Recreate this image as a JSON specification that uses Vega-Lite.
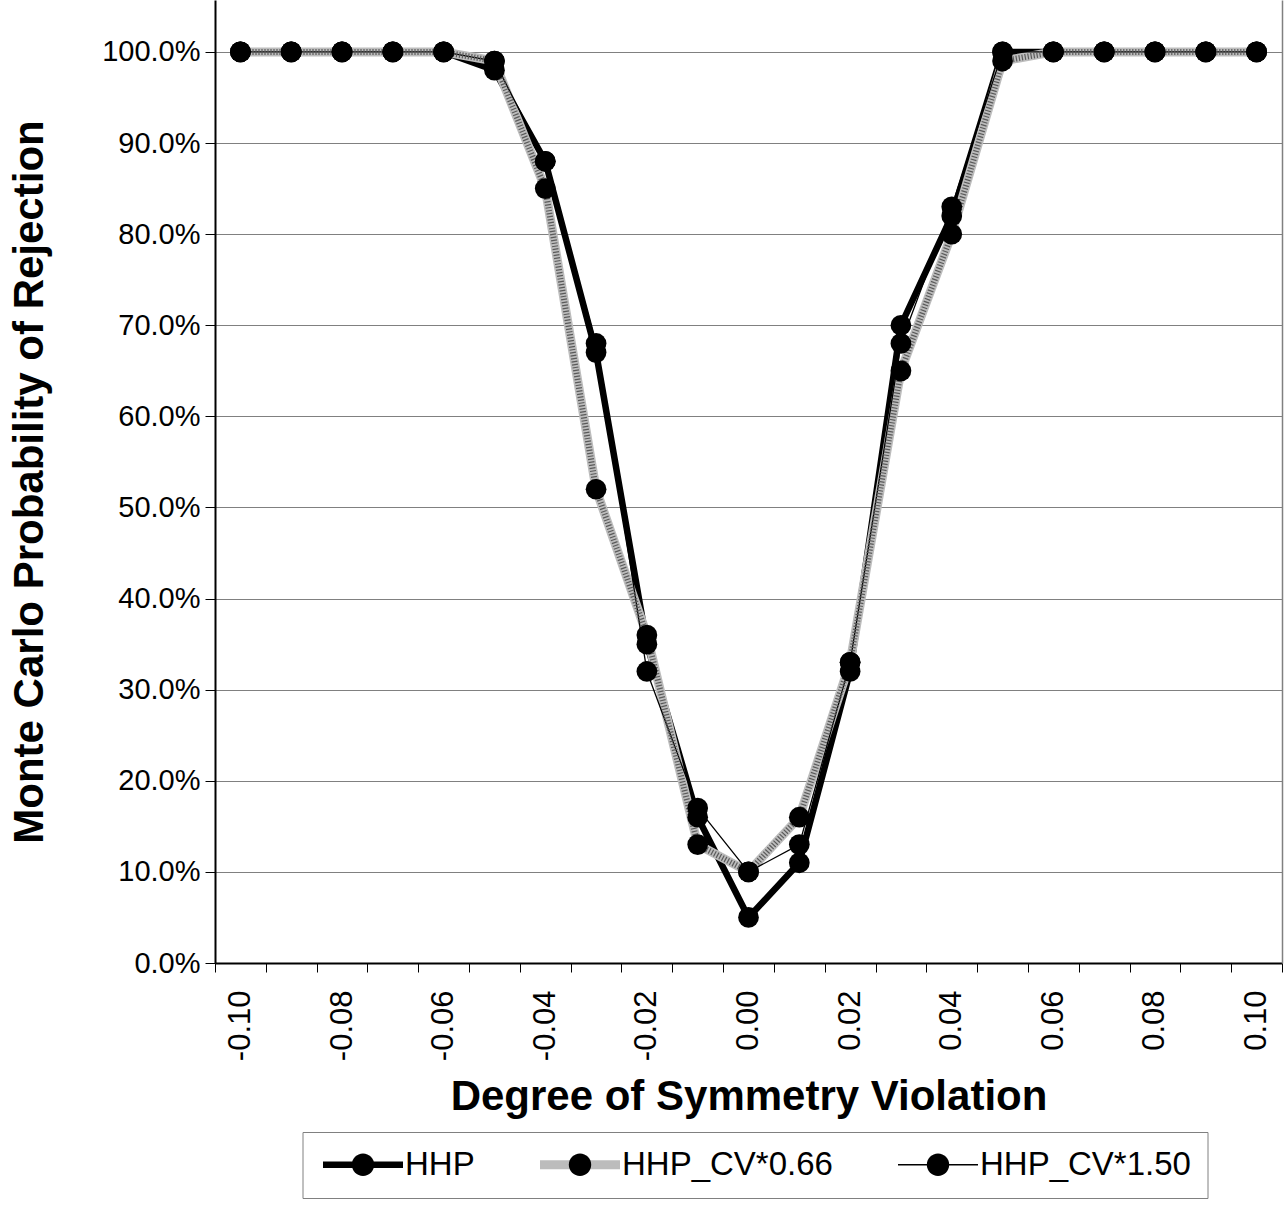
{
  "$schema": "https://vega.github.io/schema/vega-lite/v6.json",
  "width": 1067,
  "height": 963,
  "autosize": {"type": "none"},
  "padding": {"left": 215, "top": 0, "right": 4, "bottom": 255},
  "background": "white",
  "config": {"font": "Liberation Sans", "view": {"stroke": null}},
  "data": {
    "values": [
      {"x": -0.10, "series": "HHP", "value": 1.00},
      {"x": -0.09, "series": "HHP", "value": 1.00},
      {"x": -0.08, "series": "HHP", "value": 1.00},
      {"x": -0.07, "series": "HHP", "value": 1.00},
      {"x": -0.06, "series": "HHP", "value": 1.00},
      {"x": -0.05, "series": "HHP", "value": 0.98},
      {"x": -0.04, "series": "HHP", "value": 0.88},
      {"x": -0.03, "series": "HHP", "value": 0.67},
      {"x": -0.02, "series": "HHP", "value": 0.35},
      {"x": -0.01, "series": "HHP", "value": 0.16},
      {"x": 0.00, "series": "HHP", "value": 0.05},
      {"x": 0.01, "series": "HHP", "value": 0.11},
      {"x": 0.02, "series": "HHP", "value": 0.32},
      {"x": 0.03, "series": "HHP", "value": 0.70},
      {"x": 0.04, "series": "HHP", "value": 0.82},
      {"x": 0.05, "series": "HHP", "value": 1.00},
      {"x": 0.06, "series": "HHP", "value": 1.00},
      {"x": 0.07, "series": "HHP", "value": 1.00},
      {"x": 0.08, "series": "HHP", "value": 1.00},
      {"x": 0.09, "series": "HHP", "value": 1.00},
      {"x": 0.10, "series": "HHP", "value": 1.00},
      {"x": -0.10, "series": "HHP_CV*0.66", "value": 1.00},
      {"x": -0.09, "series": "HHP_CV*0.66", "value": 1.00},
      {"x": -0.08, "series": "HHP_CV*0.66", "value": 1.00},
      {"x": -0.07, "series": "HHP_CV*0.66", "value": 1.00},
      {"x": -0.06, "series": "HHP_CV*0.66", "value": 1.00},
      {"x": -0.05, "series": "HHP_CV*0.66", "value": 0.99},
      {"x": -0.04, "series": "HHP_CV*0.66", "value": 0.85},
      {"x": -0.03, "series": "HHP_CV*0.66", "value": 0.52},
      {"x": -0.02, "series": "HHP_CV*0.66", "value": 0.36},
      {"x": -0.01, "series": "HHP_CV*0.66", "value": 0.13},
      {"x": 0.00, "series": "HHP_CV*0.66", "value": 0.10},
      {"x": 0.01, "series": "HHP_CV*0.66", "value": 0.16},
      {"x": 0.02, "series": "HHP_CV*0.66", "value": 0.33},
      {"x": 0.03, "series": "HHP_CV*0.66", "value": 0.65},
      {"x": 0.04, "series": "HHP_CV*0.66", "value": 0.80},
      {"x": 0.05, "series": "HHP_CV*0.66", "value": 0.99},
      {"x": 0.06, "series": "HHP_CV*0.66", "value": 1.00},
      {"x": 0.07, "series": "HHP_CV*0.66", "value": 1.00},
      {"x": 0.08, "series": "HHP_CV*0.66", "value": 1.00},
      {"x": 0.09, "series": "HHP_CV*0.66", "value": 1.00},
      {"x": 0.10, "series": "HHP_CV*0.66", "value": 1.00},
      {"x": -0.10, "series": "HHP_CV*1.50", "value": 1.00},
      {"x": -0.09, "series": "HHP_CV*1.50", "value": 1.00},
      {"x": -0.08, "series": "HHP_CV*1.50", "value": 1.00},
      {"x": -0.07, "series": "HHP_CV*1.50", "value": 1.00},
      {"x": -0.06, "series": "HHP_CV*1.50", "value": 1.00},
      {"x": -0.05, "series": "HHP_CV*1.50", "value": 0.99},
      {"x": -0.04, "series": "HHP_CV*1.50", "value": 0.88},
      {"x": -0.03, "series": "HHP_CV*1.50", "value": 0.68},
      {"x": -0.02, "series": "HHP_CV*1.50", "value": 0.32},
      {"x": -0.01, "series": "HHP_CV*1.50", "value": 0.17},
      {"x": 0.00, "series": "HHP_CV*1.50", "value": 0.10},
      {"x": 0.01, "series": "HHP_CV*1.50", "value": 0.13},
      {"x": 0.02, "series": "HHP_CV*1.50", "value": 0.33},
      {"x": 0.03, "series": "HHP_CV*1.50", "value": 0.68},
      {"x": 0.04, "series": "HHP_CV*1.50", "value": 0.83},
      {"x": 0.05, "series": "HHP_CV*1.50", "value": 1.00},
      {"x": 0.06, "series": "HHP_CV*1.50", "value": 1.00},
      {"x": 0.07, "series": "HHP_CV*1.50", "value": 1.00},
      {"x": 0.08, "series": "HHP_CV*1.50", "value": 1.00},
      {"x": 0.09, "series": "HHP_CV*1.50", "value": 1.00},
      {"x": 0.10, "series": "HHP_CV*1.50", "value": 1.00}
    ]
  },
  "layer": [
    {
      "mark": {"type": "line", "strokeCap": "butt", "strokeJoin": "round"},
      "encoding": {
        "x": {
          "field": "x",
          "type": "quantitative",
          "scale": {"domain": [-0.105, 0.105], "nice": false, "zero": false},
          "axis": {
            "values": [-0.105, -0.095, -0.085, -0.075, -0.065, -0.055, -0.045, -0.035, -0.025, -0.015, -0.005, 0.005, 0.015, 0.025, 0.035, 0.045, 0.055, 0.065, 0.075, 0.085, 0.095, 0.105],
            "labelExpr": "['-0.10','','-0.08','','-0.06','','-0.04','','-0.02','','0.00','','0.02','','0.04','','0.06','','0.08','','0.10',''][round((datum.value + 0.105) * 100)]",
            "labelAngle": 270,
            "labelOffset": 25.4,
            "labelFont": "Liberation Sans",
            "labelFontSize": 31,
            "labelColor": "black",
            "labelPadding": 18,
            "labelOverlap": false,
            "labelFlush": false,
            "labelBound": false,
            "tickSize": 9,
            "tickColor": "black",
            "tickWidth": 1,
            "domainColor": "black",
            "domainWidth": 2,
            "grid": false,
            "title": "Degree of Symmetry Violation",
            "titleFont": "Liberation Sans",
            "titleFontSize": 42,
            "titleFontWeight": "bold",
            "titleColor": "black",
            "titlePadding": 16
          }
        },
        "y": {
          "field": "value",
          "type": "quantitative",
          "scale": {"domain": [0, 1.057], "nice": false, "zero": true},
          "axis": {
            "orient": "left",
            "values": [0, 0.1, 0.2, 0.3, 0.4, 0.5, 0.6, 0.7, 0.8, 0.9, 1.0],
            "format": ".1%",
            "labelFont": "Liberation Sans",
            "labelFontSize": 29,
            "labelColor": "black",
            "labelPadding": 5,
            "tickSize": 10,
            "tickColor": "black",
            "tickWidth": 1,
            "domainColor": "black",
            "domainWidth": 2,
            "grid": true,
            "gridColor": "#808080",
            "gridWidth": 1,
            "title": "Monte Carlo Probability of Rejection",
            "titleFont": "Liberation Sans",
            "titleFontSize": 42,
            "titleFontWeight": "bold",
            "titleColor": "black",
            "titlePadding": 50
          }
        },
        "stroke": {
          "field": "series",
          "type": "nominal",
          "scale": {"range": ["#000000", "#bcbcbc", "#000000"]},
          "legend": {
            "orient": "none", "legendX": 87.5, "legendY": 1132, "direction": "horizontal", "columns": 3,
            "title": null, "symbolType": "stroke", "symbolSize": 6400,
            "labelFont": "Liberation Sans", "labelFontSize": 33, "labelColor": "black", "labelOffset": -2.5, "labelLimit": 400,
            "columnPadding": 60, "padding": 16, "clipHeight": 33,
            "strokeColor": "#808080", "fillColor": "white"
          }
        },
        "strokeWidth": {
          "field": "series",
          "type": "nominal",
          "scale": {"type": "ordinal", "range": [6.5, 9, 1.3]},
          "legend": {
            "orient": "none", "legendX": 87.5, "legendY": 1132, "direction": "horizontal", "columns": 3,
            "title": null, "symbolType": "stroke", "symbolSize": 6400,
            "labelFont": "Liberation Sans", "labelFontSize": 33, "labelColor": "black", "labelOffset": -2.5, "labelLimit": 400,
            "columnPadding": 60, "padding": 16, "clipHeight": 33,
            "strokeColor": "#808080", "fillColor": "white"
          }
        }
      }
    },
    {
      "transform": [{"filter": "datum.series == 'HHP_CV*0.66'"}],
      "mark": {"type": "line", "color": "#5a5a5a", "strokeWidth": 6, "strokeDash": [1.2, 1.8], "strokeCap": "butt"},
      "encoding": {
        "x": {"field": "x", "type": "quantitative"},
        "y": {"field": "value", "type": "quantitative", "axis": null}
      }
    },
    {
      "mark": {"type": "point", "filled": true, "shape": "circle", "size": 430, "opacity": 1},
      "encoding": {
        "x": {"field": "x", "type": "quantitative"},
        "y": {
          "field": "value",
          "type": "quantitative",
          "axis": {"orient": "right", "labels": false, "ticks": false, "grid": false, "domainColor": "#808080", "domainWidth": 1.5, "title": null}
        },
        "fill": {
          "field": "series",
          "type": "nominal",
          "scale": {"domain": ["HHP", "HHP_CV*0.66", "HHP_CV*1.50"], "range": ["#000000", "#000000", "#000000"]},
          "legend": {
            "orient": "none", "legendX": 87.5, "legendY": 1132, "direction": "horizontal", "columns": 3,
            "title": null,
            "symbolType": "M-0.28,0A0.28,0.28,0,1,1,0.28,0A0.28,0.28,0,1,1,-0.28,0Z",
            "symbolSize": 6400, "symbolStrokeWidth": 9, "symbolStrokeColor": "transparent",
            "labelFont": "Liberation Sans", "labelFontSize": 33, "labelColor": "black", "labelOpacity": 0, "labelOffset": -2.5, "labelLimit": 400,
            "columnPadding": 60, "padding": 16, "clipHeight": 33,
            "encode": {"symbols": {"update": {"strokeWidth": {"value": 9}, "stroke": {"value": "transparent"}, "fill": {"value": "#000000"}, "opacity": {"value": 1}}}}
          }
        }
      }
    }
  ],
  "resolve": {"axis": {"y": "independent"}}
}
